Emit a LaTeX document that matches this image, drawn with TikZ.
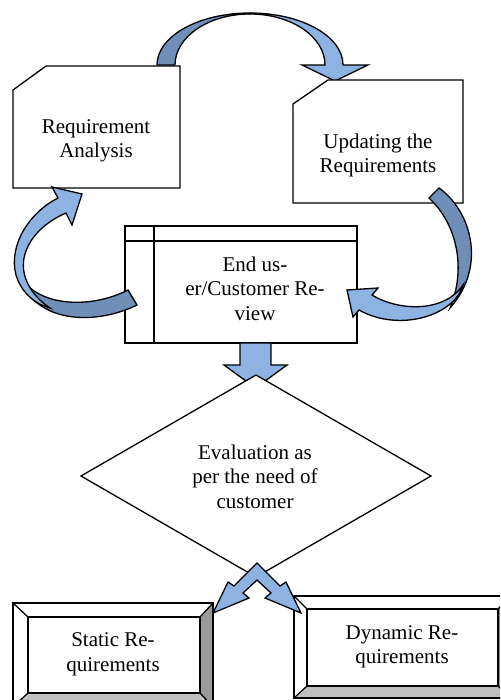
\documentclass[tikz,border=0pt]{standalone}
\usepackage{fontspec}
\setmainfont{Liberation Serif}
\definecolor{lightblue}{HTML}{8DB3E2}
\definecolor{darkblue}{HTML}{6F8FB9}
\definecolor{bevdark}{HTML}{999999}
\definecolor{bevlight}{HTML}{C0C0C0}
\tikzset{
  shapeline/.style={draw=black, line width=1.3pt, line join=miter},
  boxshape/.style={shapeline, fill=white},
  arrowlight/.style={shapeline, fill=lightblue},
  arrowdark/.style={shapeline, fill=darkblue},
  txt/.style={font=\fontsize{21}{24.5}\selectfont, align=center, inner sep=0pt, anchor=center},
}
\begin{document}
\begin{tikzpicture}[x=1pt,y=-1pt]
\useasboundingbox (0,0) rectangle (500,700);
\clip (0,0) rectangle (500,700);

% top curved arrow (Requirement Analysis -> Updating)
\path[arrowdark] (157,65) arc[start angle=180,end angle=270,x radius=93,y radius=52]
  -- (250,14) arc[start angle=270,end angle=180,x radius=75,y radius=51] -- cycle;
\path[arrowlight] (250,13) arc[start angle=270,end angle=360,x radius=93,y radius=52]
  -- (368,65) -- (335,81) -- (302,65) -- (325,65)
  arc[start angle=360,end angle=270,x radius=75,y radius=51] -- cycle;

% boxes
\path[boxshape] (46,66) -- (180,66) -- (180,188) -- (13,188) -- (13,90) -- cycle;
\path[boxshape] (328,80) -- (463,80) -- (463,203) -- (293,203) -- (293,104) -- cycle;
\path[boxshape] (125,226) rectangle (357,343);
\draw[shapeline] (125,241) -- (357,241) (154,226) -- (154,343);

% left curved arrow (End user -> Requirement Analysis)
\path[arrowdark] (137,305) .. controls (90,328) and (25,322) .. (16,265)
  .. controls (25,305) and (85,312) .. (128,290) -- cycle;
\path[arrowlight] (58,198) .. controls (30,212) and (8,245) .. (16,275)
  .. controls (22,295) and (38,305) .. (50,308)
  .. controls (35,298) and (20,280) .. (24,258)
  .. controls (28,238) and (45,222) .. (66,213)
  -- (72,225) -- (82,194) -- (52,187) -- cycle;

% right curved arrow (Updating -> End user)
\path[arrowdark] (439,188) .. controls (470,210) and (488,265) .. (450,308)
  .. controls (466,270) and (458,225) .. (429,198) -- cycle;
\path[arrowlight] (372,295) .. controls (400,312) and (445,312) .. (463,285)
  .. controls (455,315) and (400,333) .. (359,310)
  -- (353,317) -- (347,290) -- (378,288) -- cycle;

% down arrow (End user -> diamond)
\path[arrowlight] (240,343) -- (271,343) -- (271,365) -- (287,365) -- (255.5,388)
  -- (224,365) -- (240,365) -- cycle;

% diamond
\path[boxshape] (256,375) -- (431,476) -- (256,577) -- (81,476) -- cycle;

% bevel box: Static
\fill[white] (13,603) rectangle (213,707);
\fill[bevdark] (213,603) -- (213,707) -- (200,693) -- (200,617) -- cycle;
\fill[bevlight] (13,707) -- (213,707) -- (200,693) -- (28,693) -- cycle;
\draw[shapeline] (13,603) rectangle (213,707);
\draw[shapeline] (28,617) rectangle (200,693);
\draw[shapeline] (13,603) -- (28,617) (213,603) -- (200,617) (13,707) -- (28,693) (213,707) -- (200,693);

% bevel box: Dynamic
\fill[white] (294,596) rectangle (511,698);
\fill[bevdark] (511,596) -- (511,698) -- (498,686) -- (498,609) -- cycle;
\fill[bevlight] (294,698) -- (511,698) -- (498,686) -- (307,686) -- cycle;
\draw[shapeline] (294,596) rectangle (511,698);
\draw[shapeline] (307,609) rectangle (498,686);
\draw[shapeline] (294,596) -- (307,609) (511,596) -- (498,609) (294,698) -- (307,686) (511,698) -- (498,686);

% split arrow (diamond -> Static / Dynamic)
\path[arrowlight] (257,563) -- (280,586) -- (286,582) -- (301,613) -- (265,598) -- (271,593)
  -- (257,580) -- (243,593) -- (249,598) -- (213,613) -- (228,582) -- (234,586) -- cycle;

% texts
\node[txt] (ra) at (96,140.6) {\strut Requirement\\\strut Analysis};
\node[txt] (ur) at (378,155.6) {\strut Updating the\\\strut Requirements};
\node[txt] (eu) at (255,290.6) {\strut End us-\\\strut er/Customer Re-\\\strut view};
\node[txt] (ev) at (255,478.6) {\strut Evaluation as\\\strut per the need of\\\strut customer};
\node[txt] (sr) at (113,654.1) {\strut Static Re-\\\strut quirements};
\node[txt] (dr) at (402,646.6) {\strut Dynamic Re-\\\strut quirements};
\end{tikzpicture}
\end{document}
